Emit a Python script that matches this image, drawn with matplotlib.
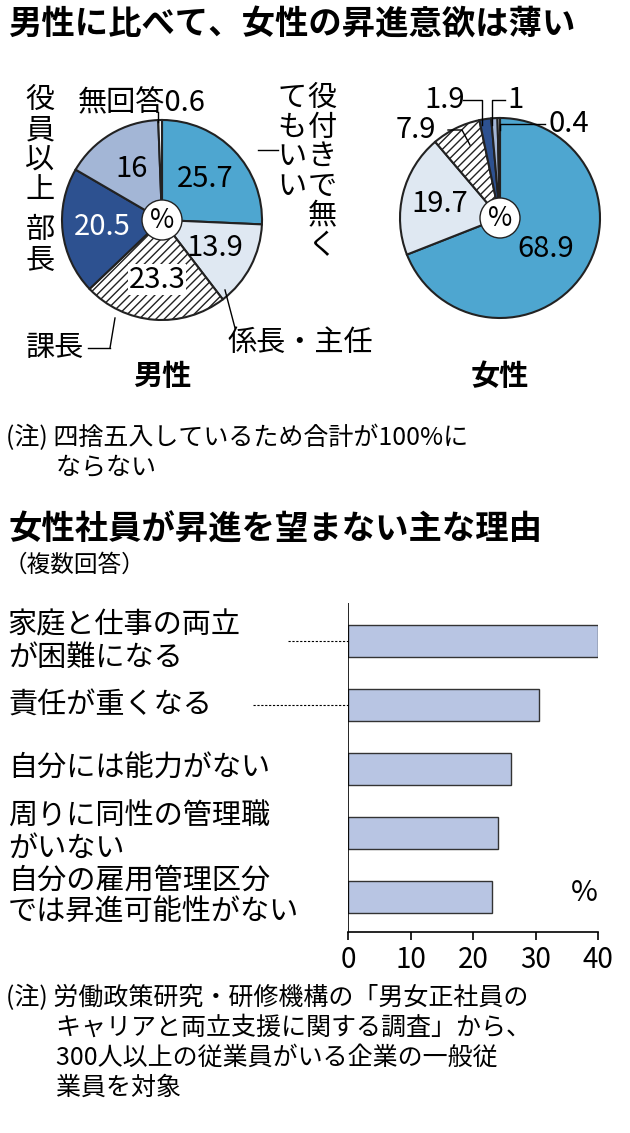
import numpy as np
import matplotlib.pyplot as plt
from matplotlib.patches import Circle

plt.rcParams['font.family'] = 'Noto Sans CJK JP'

male_vals = [25.7, 13.9, 23.3, 20.5, 16, 0.6]
female_vals = [68.9, 19.7, 7.9, 1.9, 1, 0.4]
slice_colors = ['#4ea6d0', '#dfe8f2', 'white', '#2d5190', '#a3b6d6', 'white']
slice_hatch = [None, None, '////', None, None, None]

reasons = ['家庭と仕事の両立\nが困難になる', '責任が重くなる', '自分には能力がない',
           '周りに同性の管理職\nがいない', '自分の雇用管理区分\nでは昇進可能性がない']
reason_vals = [40, 30.5, 26, 24, 23]

W, H = 630, 1133
fig = plt.figure(figsize=(W / 100, H / 100), dpi=100)


def px(x, y):
    return x / W, 1 - y / H


def line(xs, ys, **kw):
    fig.add_artist(plt.Line2D([x / W for x in xs], [1 - y / H for y in ys],
                              color='black', lw=1, **kw))


def draw_pie(cx, cy, r, vals):
    l, b = px(cx - r, cy + r)
    ax = fig.add_axes([l, b, 2 * r / W, 2 * r / H])
    wedges, _ = ax.pie(vals, colors=slice_colors, startangle=90, counterclock=False,
                       wedgeprops=dict(edgecolor='#222222', linewidth=1.5))
    for w, h in zip(wedges, slice_hatch):
        if h:
            w.set_hatch(h)
    ax.add_patch(Circle((0, 0), 0.2, facecolor='white', edgecolor='#222222', lw=1, zorder=5))
    ax.text(0, 0, '%', ha='center', va='center', fontsize=19, zorder=6)
    ax.set_xlim(-1.02, 1.02)
    ax.set_ylim(-1.02, 1.02)
    ax.set_aspect('equal')
    cum = np.cumsum([0] + vals)
    mids = 90 - 360 * (cum[:-1] + np.array(vals) / 2) / 100
    return ax, mids


def fmt(v):
    return f'{v:g}'


FS = 21

fig.text(*px(8, 24), '男性に比べて、女性の昇進意欲は薄い', fontsize=24, fontweight='bold', va='center')

# male pie
ax_m, mids_m = draw_pie(162, 220, 102, male_vals)
for v, a, i in zip(male_vals[:5], mids_m[:5], range(5)):
    d = 0.6
    col = 'white' if i == 3 else 'black'
    ax_m.text(d * np.cos(np.radians(a)), d * np.sin(np.radians(a)), fmt(v), ha='center',
              va='center', fontsize=FS, color=col, zorder=7,
              bbox=dict(fc='white', ec='none', pad=0.5) if i == 2 else None)
fig.text(*px(78, 103), '無回答' + fmt(male_vals[5]), fontsize=FS, va='center')
line([158, 158], [112, 122])
fig.text(*px(40, 85), '\n'.join('役員以上'), fontsize=FS, va='top', ha='center', linespacing=1.0)
fig.text(*px(40, 215), '\n'.join('部長'), fontsize=FS, va='top', ha='center', linespacing=1.0)
fig.text(*px(322, 83), '\n'.join('役付きで無く'), fontsize=FS, va='top', ha='center', linespacing=0.98)
fig.text(*px(292, 83), '\n'.join('てもいい'), fontsize=FS, va='top', ha='center', linespacing=0.98)
line([258, 278], [150, 150])
fig.text(*px(228, 343), '係長・主任', fontsize=FS, va='center')
line([225, 235], [290, 328])
fig.text(*px(26, 348), '課長', fontsize=FS, va='center')
line([88, 110], [348, 348])
line([110, 115], [348, 318])
fig.text(*px(162, 376), '男性', fontsize=FS, fontweight='bold', ha='center', va='center')

# female pie
ax_f, mids_f = draw_pie(500, 218, 102, female_vals)
for v, a, d in zip(female_vals[:2], mids_f[:2], [0.55, 0.62]):
    ax_f.text(d * np.cos(np.radians(a)), d * np.sin(np.radians(a)), fmt(v), ha='center',
              va='center', fontsize=FS, zorder=7)
fig.text(*px(396, 130), fmt(female_vals[2]), fontsize=FS, va='center')
fig.text(*px(424, 100), fmt(female_vals[3]), fontsize=FS, va='center')
fig.text(*px(507, 100), fmt(female_vals[4]), fontsize=FS, va='center')
fig.text(*px(548, 124), fmt(female_vals[5]), fontsize=FS, va='center')
line([448, 462, 470], [130, 130, 145])
line([463, 482, 482], [100, 100, 125])
line([505, 492, 492], [100, 100, 125])
line([545, 500, 500], [124, 124, 130])
fig.text(*px(500, 376), '女性', fontsize=FS, fontweight='bold', ha='center', va='center')

fig.text(*px(6, 425), '(注) 四捨五入しているため合計が100%に\n　　ならない', fontsize=18, va='top',
         linespacing=1.2)

# bar section
fig.text(*px(8, 530), '女性社員が昇進を望まない主な理由', fontsize=24, fontweight='bold', va='center')
fig.text(*px(4, 565), '（複数回答）', fontsize=17, va='center')

l, b = px(348, 932)
ax = fig.add_axes([l, b, (598 - 348) / W, (932 - 603) / H])
y = np.arange(len(reasons))
ax.barh(y, reason_vals, height=0.5, color='#b8c5e3', edgecolor='#333333', lw=1)
ax.set_ylim(len(reasons) - 0.45, -0.6)
ax.set_xlim(0, 40)
ax.set_xticks([0, 10, 20, 30, 40])
ax.tick_params(axis='x', labelsize=20, length=6, width=1.2, direction='out')
ax.set_yticks([])
for s in ['top', 'right', 'left']:
    ax.spines[s].set_visible(False)
ax.spines['bottom'].set_linewidth(1.2)
ax.axvline(0, color='black', lw=1.2)
ax.text(1.0, 0.12, '%', transform=ax.transAxes, fontsize=FS, ha='right', va='center')
for i, t in enumerate(reasons):
    ax.text(-340 / 250, i, t, transform=ax.get_yaxis_transform(), ha='left', va='center',
            fontsize=FS, linespacing=1.1)
ax.plot([-60 / 250, 0], [0, 0], transform=ax.get_yaxis_transform(), color='black',
        ls=(0, (2, 1.5)), lw=0.8, clip_on=False)
ax.plot([-95 / 250, 0], [1, 1], transform=ax.get_yaxis_transform(), color='black',
        ls=(0, (2, 1.5)), lw=0.8, clip_on=False)

fig.text(*px(6, 985), '(注) 労働政策研究・研修機構の「男女正社員の\n　　キャリアと両立支援に関する調査」から、\n'
         '　　300人以上の従業員がいる企業の一般従\n　　業員を対象', fontsize=18, va='top', linespacing=1.2)

fig.savefig('out.png', dpi=100, facecolor='white')
